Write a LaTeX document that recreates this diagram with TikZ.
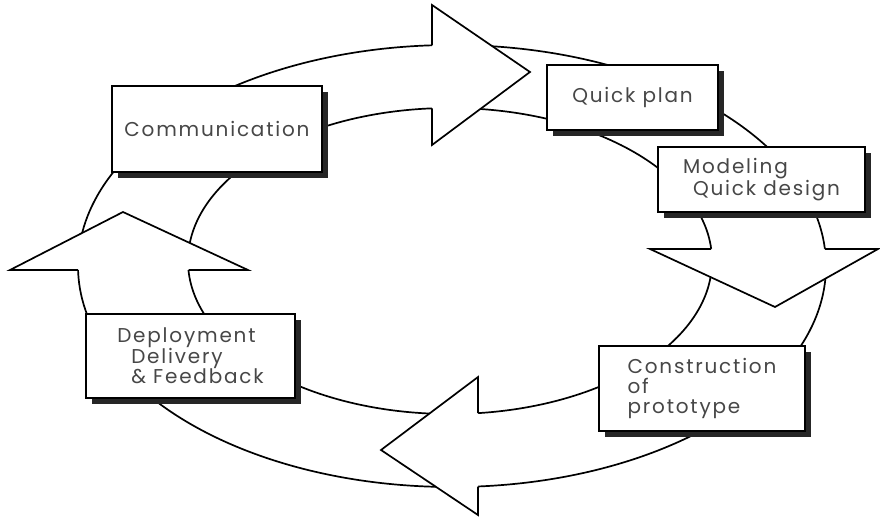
\documentclass[tikz,border=0pt]{standalone}
\usepackage{fontspec}
\setmainfont{Poppins}[LetterSpace=9]
\usetikzlibrary{shadows}
\newcommand{\outerring}{(452,266) ellipse [x radius=374, y radius=221]}
\newcommand{\innerring}{(450,261) ellipse [x radius=262, y radius=153]}

\begin{document}
\begin{tikzpicture}[x=1pt, y=-1pt,
    phase/.style={draw, rectangle, line width=1.8pt, fill=white, inner sep=0pt,
      text=black!72, align=left, font=\fontsize{20}{20}\selectfont,
      drop shadow={shadow xshift=6pt, shadow yshift=-6pt, fill=black!85, opacity=1}},
    ringline/.style={line width=1.7pt, line join=miter},
    headfill/.style={fill=white}]
    \useasboundingbox (0,0) rectangle (880,518);

    % Ring
    \draw[ringline] \outerring;
    \draw[ringline] \innerring;

    % Arrow heads, open towards the ring
    \fill[headfill] (432,5) -- (530,72) -- (432,145) -- cycle;
    \draw[ringline] (432,45.3) -- (432,5) -- (530,72) -- (432,145) -- (432,108.4);

    \fill[headfill] (650,249) -- (878,249) -- (775,307) -- cycle;
    \draw[ringline] (711.2,249) -- (650,249) -- (775,307) -- (878,249) -- (824.9,249);

    \fill[headfill] (478,377) -- (381,450) -- (478,515) -- cycle;
    \draw[ringline] (478,413.1) -- (478,377) -- (381,450) -- (478,515) -- (478,486.5);

    \fill[headfill] (10,270) -- (123,212) -- (248,270) -- cycle;
    \draw[ringline] (78,270) -- (10,270) -- (123,212) -- (248,270) -- (188.5,270);

    % Phases
    \node[phase, minimum width=210pt, minimum height=86pt] (comm) at (217,129) {Communication};
    \node[phase, minimum width=171pt, minimum height=65pt] (plan) at (632.5,97.5) {Quick plan};
    \node[phase, minimum width=207pt, minimum height=65pt] (model) at (761.5,179.5) {Modeling\\\hspace{10pt}Quick design};
    \node[phase, minimum width=206pt, minimum height=85pt] (constr) at (702,388.5) {Construction\\of\\prototype};
    \node[phase, minimum width=209pt, minimum height=84pt] (deploy) at (190.5,356) {Deployment\\\hspace{14pt}Delivery\\\hspace{14pt}\& Feedback};

\end{tikzpicture}
\end{document}
